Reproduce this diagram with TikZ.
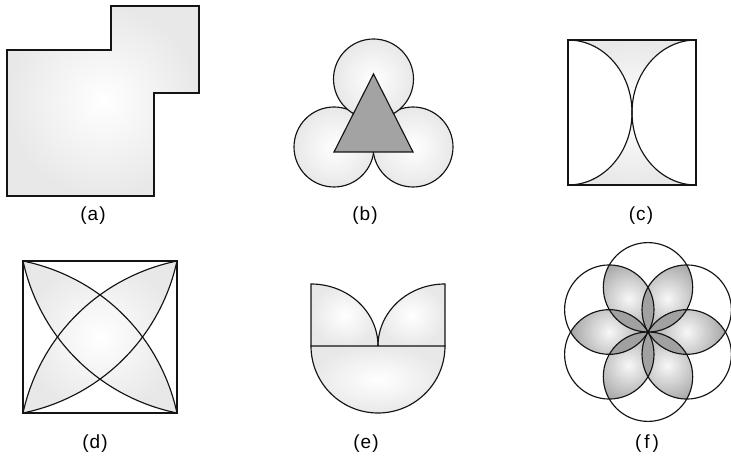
\documentclass[tikz,border=0pt]{standalone}
\usepackage{fontspec}
\setmainfont{Liberation Sans}
\begin{document}
\begin{tikzpicture}[x=1pt,y=1pt,
  outl/.style={draw=black!92, line width=1.15pt, line join=miter},
  lbl/.style={font=\fontsize{19}{19}\selectfont\addfontfeature{LetterSpace=6}, inner sep=0pt},
  softshade/.style={inner color=white, outer color=black!9},
  petal/.style={inner color=black!3, outer color=black!38},
  overlapfill/.style={fill=black!37},
]
\useasboundingbox (0,0) rectangle (731,461);

% ---------- (a)
\shadedraw[softshade,outl] (7,411) -- (111,411) -- (111,455) -- (199,455) -- (199,368) -- (154,368) -- (154,265) -- (7,265) -- cycle;
\node[lbl] (la) at (93,245) {(a)};

% ---------- (b)
\coordinate (b1) at (334,314);
\coordinate (b2) at (413,314);
\coordinate (b3) at (373.5,382);
\shadedraw[softshade,outl] (b1) circle (40);
\shadedraw[softshade,outl] (b2) circle (40);
\shadedraw[softshade,outl] (b3) circle (40);
\filldraw[fill=black!36,outl] (373.5,387) -- (334,309) -- (413,309) -- cycle;
\node[lbl] (lb) at (365,245) {(b)};

% ---------- (c)
\shade[softshade] (568,276) rectangle (696,421);
\fill[white] (568,421) arc[start angle=90,end angle=-90,x radius=64,y radius=72.5] -- cycle;
\fill[white] (696,421) arc[start angle=90,end angle=270,x radius=64,y radius=72.5] -- cycle;
\draw[outl] (568,421) arc[start angle=90,end angle=-90,x radius=64,y radius=72.5];
\draw[outl] (696,421) arc[start angle=90,end angle=270,x radius=64,y radius=72.5];
\draw[outl] (568,276) rectangle (696,421);
\node[lbl] (lc) at (641,245) {(c)};

% ---------- (d)
\coordinate (dTL) at (23,200);
\coordinate (dTR) at (177,200);
\coordinate (dBL) at (23,48);
\coordinate (dBR) at (177,48);
\shade[softshade] (dTL) to[bend left=33,looseness=0.93] (dBR) to[bend left=33,looseness=0.93] (dTL)
                  (dTR) to[bend left=33,looseness=0.93] (dBL) to[bend left=33,looseness=0.93] (dTR);
\draw[outl] (dTL) to[bend left=33,looseness=0.93] (dBR) to[bend left=33,looseness=0.93] (dTL);
\draw[outl] (dTR) to[bend left=33,looseness=0.93] (dBL) to[bend left=33,looseness=0.93] (dTR);
\draw[outl] (dBL) rectangle (dTR);
\node[lbl] (ld) at (95,17) {(d)};

% ---------- (e)
\shade[softshade] (311,177) arc[start angle=90,end angle=0,x radius=67,y radius=62] -- (311,115) -- cycle;
\shade[softshade] (445,177) arc[start angle=90,end angle=180,x radius=67,y radius=62] -- (445,115) -- cycle;
\shade[softshade] (311,115) arc[start angle=180,end angle=360,radius=67] -- cycle;
\draw[outl] (311,115) -- (311,177) arc[start angle=90,end angle=0,x radius=67,y radius=62];
\draw[outl] (445,115) -- (445,177) arc[start angle=90,end angle=180,x radius=67,y radius=62];
\draw[outl] (311,115) arc[start angle=180,end angle=360,radius=67] -- cycle;
\node[lbl] (le) at (366,17) {(e)};

% ---------- (f)
\coordinate (fO) at (648,129);
\foreach \t in {0,60,...,300}{
  \begin{scope}
    \clip (fO) ++(\t-30:44.7) circle (44.7);
    \clip (fO) ++(\t+30:44.7) circle (44.7);
    \shade[petal] (fO) ++(\t:38.7) circle (42);
  \end{scope}
}
\foreach \t in {30,90,...,330}{
  \begin{scope}
    \clip (fO) ++(\t-60:44.7) circle (44.7);
    \fill[overlapfill] (fO) ++(\t+60:44.7) circle (44.7);
  \end{scope}
}
\foreach \t in {30,90,...,330}{
  \draw[outl] (fO) ++(\t:44.7) circle (44.7);
}
\node[lbl] (lf) at (647,17) {(\kern3pt f\kern3pt)};
\end{tikzpicture}
\end{document}
